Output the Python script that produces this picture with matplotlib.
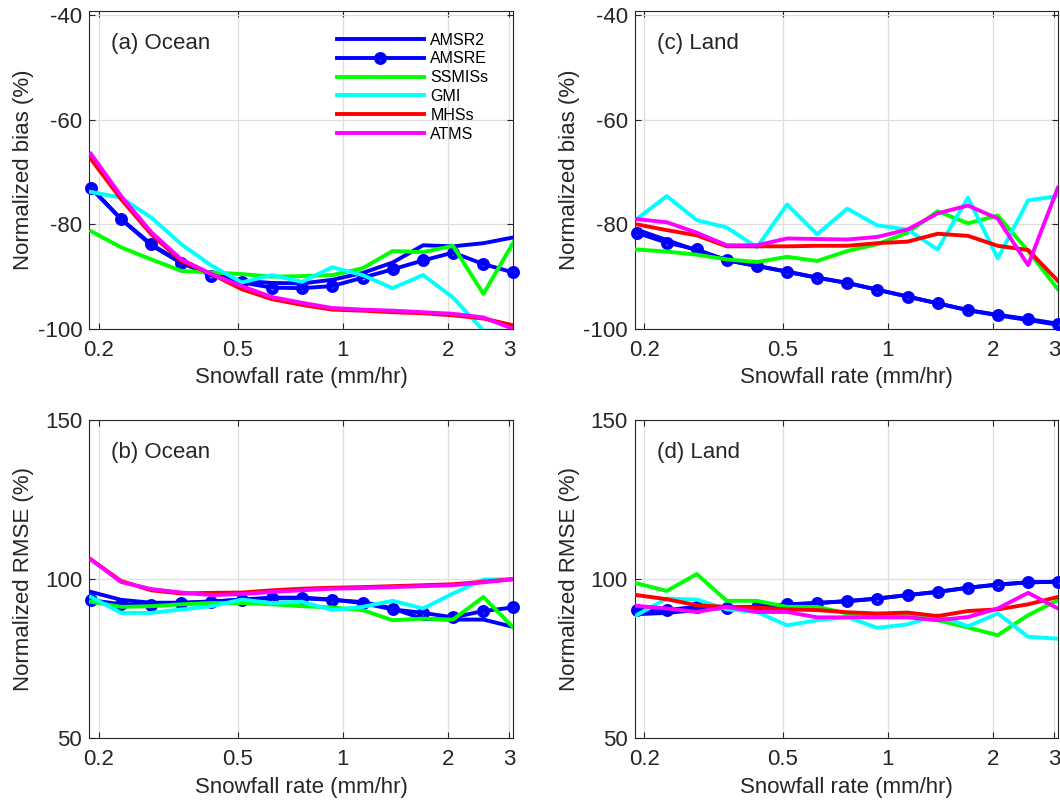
# -*- coding: utf-8 -*-

import matplotlib
matplotlib.use('Agg')
import matplotlib.pyplot as plt

plt.rcParams['font.family'] = ['Liberation Sans', 'DejaVu Sans']
plt.rcParams['axes.unicode_minus'] = False

# snowfall rate bin centres (mm/hr)
rate = [0.19, 0.232, 0.283, 0.345, 0.421, 0.514, 0.627, 0.765, 0.933,
        1.14, 1.39, 1.70, 2.07, 2.53, 3.08]

sensors = ['AMSR2', 'AMSRE', 'SSMISs', 'GMI', 'MHSs', 'ATMS']

# (a) ocean normalized bias (%)
bias_ocean_amsr2 = [-73.0, -79.0, -84.0, -87.4, -89.5, -90.8, -91.2, -91.3,
                    -90.6, -89.3, -87.3, -84.0, -84.2, -83.6, -82.5]
bias_ocean_amsre = [-73.0, -79.0, -83.8, -87.3, -89.8, -91.1, -92.1, -92.2,
                    -91.8, -90.2, -88.6, -86.9, -85.4, -87.6, -89.2]
bias_ocean_ssmis = [-81.3, -84.4, -86.7, -88.9, -89.2, -89.5, -90.0, -89.9,
                    -89.7, -88.4, -85.1, -85.3, -84.1, -93.3, -83.5]
bias_ocean_gmi = [-73.8, -74.9, -78.7, -83.8, -87.9, -91.1, -89.7, -91.0,
                  -88.2, -89.7, -92.2, -89.7, -94.0, -100.3, -100.4]
bias_ocean_mhs = [-67.5, -75.2, -81.9, -87.0, -89.5, -92.4, -94.3, -95.4,
                  -96.3, -96.5, -96.8, -97.0, -97.4, -98.0, -99.3]
bias_ocean_atms = [-66.5, -74.6, -81.5, -86.7, -89.5, -91.8, -93.9, -95.0,
                   -96.0, -96.3, -96.5, -96.8, -97.1, -97.8, -100.0]

# (b) ocean normalized RMSE (%)
rmse_ocean_amsr2 = [96.0, 93.5, 92.6, 92.6, 93.0, 93.5, 94.0, 94.0,
                    93.5, 92.8, 90.8, 87.5, 87.3, 87.3, 85.0]
rmse_ocean_amsre = [93.4, 92.1, 91.8, 92.5, 92.9, 93.6, 94.2, 94.2,
                    93.6, 92.5, 90.5, 89.4, 88.0, 90.0, 91.1]
rmse_ocean_ssmis = [92.9, 91.3, 91.5, 92.1, 92.5, 92.5, 92.1, 91.5,
                    91.1, 90.3, 87.1, 87.6, 87.3, 94.4, 84.8]
rmse_ocean_gmi = [94.4, 89.4, 89.4, 90.5, 91.5, 93.6, 92.5, 92.9,
                  90.3, 91.3, 93.2, 90.8, 95.5, 99.9, 100.0]
rmse_ocean_mhs = [106.2, 99.4, 96.5, 95.5, 95.7, 95.8, 96.5, 97.0,
                  97.3, 97.5, 97.8, 98.1, 98.4, 99.2, 100.0]
rmse_ocean_atms = [106.2, 99.1, 96.9, 95.8, 95.0, 95.3, 96.0, 96.5,
                   97.0, 97.2, 97.5, 97.8, 98.1, 99.0, 100.0]

# (c) land normalized bias (%)
bias_land_amsr2 = [-81.0, -83.0, -85.0, -86.8, -88.0, -89.0, -90.2, -91.2,
                   -92.5, -93.8, -95.1, -96.4, -97.4, -98.3, -99.2]
bias_land_amsre = [-81.6, -83.5, -84.8, -86.9, -87.9, -89.1, -90.2, -91.2,
                   -92.5, -93.8, -95.1, -96.4, -97.3, -98.1, -99.0]
bias_land_ssmis = [-84.8, -85.2, -85.8, -86.7, -87.2, -86.2, -87.0, -85.1,
                   -83.8, -81.6, -77.5, -79.8, -78.3, -85.1, -92.4]
bias_land_gmi = [-79.0, -74.6, -79.2, -80.6, -84.4, -76.2, -81.9, -77.0,
                 -80.2, -81.0, -84.8, -74.9, -86.5, -75.4, -74.6]
bias_land_mhs = [-80.0, -81.1, -82.1, -84.2, -84.2, -84.2, -84.1, -84.1,
                 -83.6, -83.3, -81.8, -82.2, -84.1, -84.9, -90.8]
bias_land_atms = [-79.0, -79.6, -81.6, -84.0, -84.0, -82.7, -82.8, -82.9,
                  -82.4, -81.0, -77.9, -76.4, -78.9, -87.8, -73.0]

# (d) land normalized RMSE (%)
rmse_land_amsr2 = [89.0, 89.4, 90.3, 91.0, 91.3, 92.0, 92.5, 93.1,
                   93.9, 95.0, 96.0, 97.3, 98.3, 99.0, 99.2]
rmse_land_amsre = [90.3, 90.3, 91.3, 91.0, 91.3, 92.1, 92.5, 93.1,
                   93.9, 95.0, 96.0, 97.3, 98.3, 99.0, 99.2]
rmse_land_ssmis = [98.7, 96.3, 101.6, 93.2, 93.2, 91.3, 91.3, 89.2,
                   88.7, 88.7, 87.1, 84.8, 82.4, 88.7, 93.4]
rmse_land_gmi = [88.7, 93.9, 93.6, 90.5, 89.7, 85.5, 87.1, 88.1,
                 84.7, 85.8, 88.7, 85.2, 89.2, 81.9, 81.3]
rmse_land_mhs = [95.0, 93.7, 91.8, 91.3, 91.1, 90.5, 90.3, 89.6,
                 89.2, 89.5, 88.4, 90.0, 90.5, 92.1, 94.4]
rmse_land_atms = [91.6, 90.8, 89.7, 91.3, 89.7, 89.7, 88.0, 88.0,
                  88.0, 88.0, 87.1, 88.1, 90.8, 95.7, 90.8]

xticks = [0.2, 0.5, 1, 2, 3]
xtick_labels = ['0.2', '0.5', '1', '2', '3']

panels = [
    ('(a) Ocean', 'Normalized bias (%)',
     [bias_ocean_amsr2, bias_ocean_amsre, bias_ocean_ssmis,
      bias_ocean_gmi, bias_ocean_mhs, bias_ocean_atms]),
    ('(b) Ocean', 'Normalized RMSE (%)',
     [rmse_ocean_amsr2, rmse_ocean_amsre, rmse_ocean_ssmis,
      rmse_ocean_gmi, rmse_ocean_mhs, rmse_ocean_atms]),
    ('(c) Land', 'Normalized bias (%)',
     [bias_land_amsr2, bias_land_amsre, bias_land_ssmis,
      bias_land_gmi, bias_land_mhs, bias_land_atms]),
    ('(d) Land', 'Normalized RMSE (%)',
     [rmse_land_amsr2, rmse_land_amsre, rmse_land_ssmis,
      rmse_land_gmi, rmse_land_mhs, rmse_land_atms]),
]

colors = ['#0000ff', '#0000ff', '#00ff00', '#00ffff', '#ff0000', '#ff00ff']
dark = '#262626'

# axes boxes in figure fraction (left, bottom, width, height)
boxes = [
    [0.0842, 0.5888, 0.400, 0.3975],
    [0.0842, 0.0771, 0.400, 0.3979],
    [0.5990, 0.5888, 0.399, 0.3975],
    [0.5990, 0.0771, 0.399, 0.3979],
]

fig = plt.figure(figsize=(10.6, 8), dpi=100)

for i, (title, ylab, series) in enumerate(panels):
    ax = fig.add_axes(boxes[i])
    for name, vals, c in zip(sensors, series, colors):
        if name == 'AMSRE':
            ax.plot(rate, vals, color=c, lw=2.8, marker='o', ms=6,
                    mew=3.3, mfc='none', label=name, clip_on=False, zorder=3)
        else:
            ax.plot(rate, vals, color=c, lw=2.8, label=name, zorder=3)

    ax.set_xscale('log')
    ax.set_xlim(0.188, 3.08)
    ax.set_xticks(xticks)
    ax.set_xticklabels(xtick_labels)
    ax.minorticks_off()
    if 'bias' in ylab:
        ax.set_ylim(-100, -39.2)
        ax.set_yticks([-100, -80, -60, -40])
    else:
        ax.set_ylim(50, 150)
        ax.set_yticks([50, 100, 150])

    ax.grid(True, color='#dedede', lw=0.9)
    ax.set_axisbelow(True)
    ax.tick_params(direction='in', length=4, width=0.8, colors=dark,
                   labelsize=16, top=True, right=True)
    ax.tick_params(axis='x', pad=8)
    ax.tick_params(axis='y', pad=5)
    for sp in ax.spines.values():
        sp.set_color(dark)
        sp.set_linewidth(0.8)

    ax.set_xlabel('Snowfall rate (mm/hr)', fontsize=16, color=dark)
    ax.set_ylabel(ylab, fontsize=16, color=dark)
    ax.xaxis.set_label_coords(0.5, -0.12)
    ax.yaxis.set_label_coords(-0.13, 0.5)

    ax.text(0.051, 0.899, title, transform=ax.transAxes, fontsize=16,
            color=dark, va='center', ha='left')

    if i == 0:
        ax.legend(loc='upper left', bbox_to_anchor=(0.5835, 0.932),
                  frameon=False, fontsize=11.5, handlelength=5.45,
                  handletextpad=0.42, labelspacing=0.24, borderpad=0,
                  borderaxespad=0, numpoints=1)

fig.savefig('out.png', dpi=100)
